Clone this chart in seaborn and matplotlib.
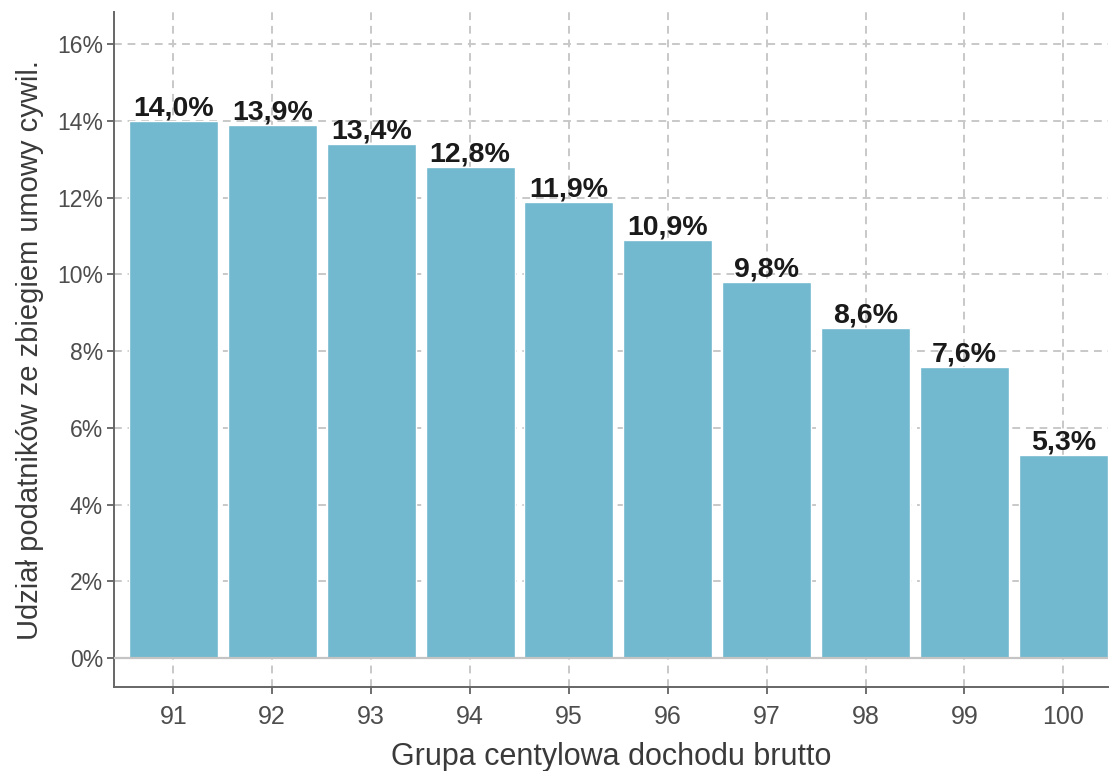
"""
Udział podatników ze zbiegiem umowy cywilnoprawnej wg grup centylowych
"""
import matplotlib.pyplot as plt
import seaborn as sns
import pandas as pd
from matplotlib.ticker import FuncFormatter

plt.switch_backend('Agg')

# Dane
grupy = ['91', '92', '93', '94', '95', '96', '97', '98', '99', '100']
udzial = [14.0, 13.9, 13.4, 12.8, 11.9, 10.9, 9.8, 8.6, 7.6, 5.3]

df = pd.DataFrame({'grupa': grupy, 'udzial': udzial})

sns.set_style('white')
plt.rcParams['font.family'] = ['Liberation Sans', 'DejaVu Sans']

fig = plt.figure(figsize=(11.09, 7.71), dpi=100)
ax = fig.add_axes([0.1028, 0.109, 0.8962, 0.875])

sns.barplot(data=df, x='grupa', y='udzial', color='#72b8cf', saturation=1,
            width=0.9, ax=ax)

# siatka przerywana w obu kierunkach, pod słupkami
ax.set_axisbelow(True)
ax.grid(True, which='major', axis='both', color='#c8c8c8',
        linestyle=(0, (4, 3)), linewidth=1.4)

ax.axhline(0, color='#c4c4c4', linewidth=1.6, zorder=3)

for i, v in enumerate(udzial):
    ax.text(i, v - 0.02, f'{v:.1f}'.replace('.', ',') + '%',
            ha='center', va='bottom', fontsize=20.5, fontweight='bold',
            color='#1a1a1a')

ax.set_xlim(-0.6, 9.45)
ax.set_ylim(-0.75, 16.83)
ax.set_yticks(range(0, 17, 2))
ax.yaxis.set_major_formatter(FuncFormatter(lambda v, p: f'{v:.0f}%'))

ax.set_xlabel('Grupa centylowa dochodu brutto', fontsize=22, color='#3a3a3a',
              labelpad=9)
ax.set_ylabel('Udział podatników ze zbiegiem umowy cywil.', fontsize=21,
              color='#3a3a3a', labelpad=9)

ax.tick_params(axis='both', colors='#555555', length=5, width=1.2,
               labelcolor='#4d4d4d', labelsize=16.5, bottom=True, left=True)
ax.tick_params(axis='x', labelsize=18, pad=8)
ax.tick_params(axis='y', pad=3)

for s in ['top', 'right']:
    ax.spines[s].set_visible(False)
for s in ['left', 'bottom']:
    ax.spines[s].set_color('#666666')
    ax.spines[s].set_linewidth(1.4)

fig.savefig('out.png', dpi=100, facecolor='white')
